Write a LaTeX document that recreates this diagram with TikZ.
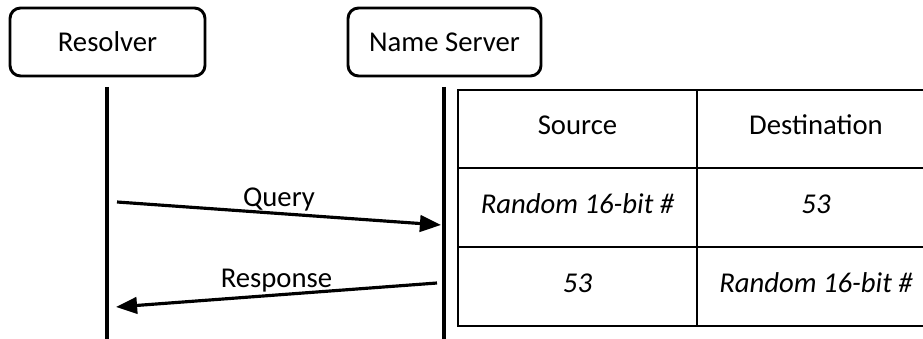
\documentclass[tikz,border=0pt]{standalone}
\usepackage{fontspec}
\setmainfont{Carlito}
\usetikzlibrary{arrows.meta}

\tikzset{
  actor/.style={draw, line width=2.5pt, rounded corners=9pt, minimum height=2.04cm, inner sep=0pt},
  lifeline/.style={line width=2.8pt},
  msg/.style={line width=2.7pt, -{Triangle[length=18pt,width=14pt]}},
  cell/.style={inner sep=0pt},
}

\begin{document}
\begin{tikzpicture}[x=0.03cm,y=-0.03cm,font=\fontsize{24.5}{29}\selectfont]
    \useasboundingbox (0,0) rectangle (923,339);
    \clip (0,0) rectangle (923,339);

    % draw the two parties
    \node[actor, minimum width=5.85cm] (resolver) at (107.5,42) {Resolver};
    \node[actor, minimum width=5.79cm] (server) at (444.5,42) {Name Server};

    % draw the lifelines
    \coordinate (rtop) at (107,87);
    \coordinate (rbot) at (107,345);
    \coordinate (stop) at (444,87);
    \coordinate (sbot) at (444,345);
    \draw[lifeline] (rtop) -- (rbot);
    \draw[lifeline] (stop) -- (sbot);

    % query
    \coordinate (qfrom) at (117,202);
    \coordinate (qto) at (441,225);
    \draw[msg] (qfrom) -- (qto) node[midway, above=1pt, cell] (qlabel) {Query};

    % response
    \coordinate (afrom) at (437,283);
    \coordinate (ato) at (116,307);
    \draw[msg] (afrom) -- (ato) node[midway, above=1pt, cell] (alabel) {Response};

    % draw the port table
    \draw[line width=1.6pt] (458,90) rectangle (935,326);
    \draw[line width=1.4pt] (697,90) -- (697,326)
        (458,168) -- (935,168)
        (458,247) -- (935,247);

    % text in the table
    \node[cell] (src) at (577.5,125) {Source};
    \node[cell] (dst) at (816,125) {Destination};
    \node[cell] (src1) at (577.5,204) {\itshape Random 16-bit \#};
    \node[cell] (dst1) at (816,204) {\itshape 53};
    \node[cell] (src2) at (577.5,283) {\itshape 53};
    \node[cell] (dst2) at (816,283) {\itshape Random 16-bit \#};
\end{tikzpicture}
\end{document}
